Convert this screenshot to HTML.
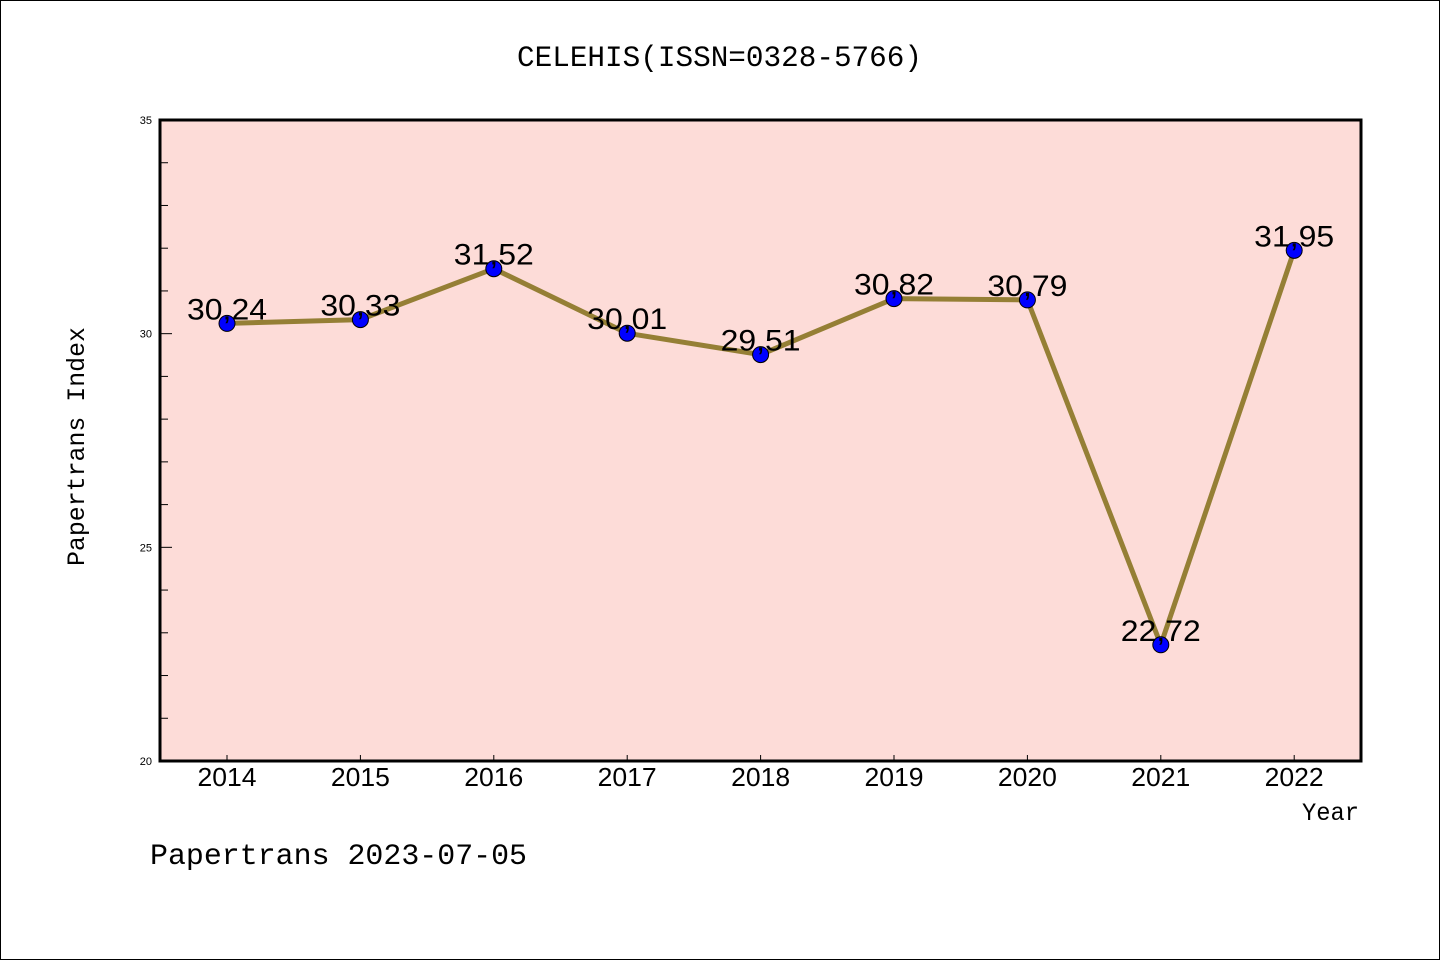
<!DOCTYPE html>
<html><head><meta charset="utf-8"><style>
html,body{margin:0;padding:0;background:#fff}
svg{display:block}
text{font-family:"Liberation Sans",sans-serif}
.mono{font-family:"Liberation Mono",monospace}
</style></head><body>
<svg id="chart" width="1440" height="960" xmlns="http://www.w3.org/2000/svg">
<rect x="0.5" y="0.5" width="1439" height="959" fill="#fff" stroke="#000"/>
<text class="mono" x="517" y="66" font-size="30" textLength="405" lengthAdjust="spacingAndGlyphs">CELEHIS(ISSN=0328-5766)</text>
<rect x="160" y="120" width="1201" height="641" fill="#fddcd8"/>
<g id="axes"></g>
<g id="series"></g>
<rect x="160" y="120" width="1201" height="641" fill="none" stroke="#000" stroke-width="3"/>
<text class="mono" x="84" y="566" font-size="25" textLength="239" lengthAdjust="spacingAndGlyphs" transform="rotate(-90 84 566)">Papertrans Index</text>
<text class="mono" x="1302" y="820" font-size="25" textLength="57" lengthAdjust="spacingAndGlyphs">Year</text>
<text class="mono" x="150" y="864" font-size="30" textLength="377" lengthAdjust="spacingAndGlyphs">Papertrans 2023-07-05</text>
</svg>
<script>
const years = ["2014","2015","2016","2017","2018","2019","2020","2021","2022"];
const values = [30.24,30.33,31.52,30.01,29.51,30.82,30.79,22.72,31.95];
const labels = ["30,24","30,33","31,52","30,01","29,51","30,82","30,79","22,72","31,95"];
const yTicks = [20,25,30,35];
const NS="http://www.w3.org/2000/svg";
const yMin=20,yMax=35,plotTop=120,plotBot=761;
function ys(v){return plotBot-(v-yMin)/(yMax-yMin)*(plotBot-plotTop);}
function xs(i){return 227+i*133.4;}
function mk(t,a,p){const e=document.createElementNS(NS,t);for(const k in a)e.setAttribute(k,a[k]);p.appendChild(e);return e;}
const ax=document.getElementById('axes'), se=document.getElementById('series');
for(let v=yMin;v<=yMax;v++){
  const major=yTicks.includes(v);
  const t=mk('line',{x1:160,x2:major?172:168,y1:ys(v),y2:ys(v),stroke:'#000','stroke-width':1},ax);
  
  
}
yTicks.forEach(v=>{
  const t=mk('text',{x:152,y:ys(v)+4,'font-size':11,'text-anchor':'end'},ax);t.textContent=v;
  
  
});
years.forEach((y,i)=>{
  const t=mk('line',{x1:xs(i),x2:xs(i),y1:761,y2:755,stroke:'#000','stroke-width':1},ax);
  
  
  const l=mk('text',{x:xs(i),y:786,'font-size':26,'text-anchor':'middle',textLength:59,lengthAdjust:'spacingAndGlyphs'},ax);l.textContent=y;
  
  
});
const pl=mk('polyline',{points:values.map((v,i)=>xs(i)+','+ys(v)).join(' '),fill:'none',stroke:'#957f35','stroke-width':5,'stroke-linejoin':'round'},se);


values.forEach((v,i)=>{
  const c=mk('circle',{cx:xs(i),cy:ys(v),r:8,fill:'#0000ff',stroke:'#000','stroke-width':1},se);
  
  
});
values.forEach((v,i)=>{
  const t=mk('text',{x:xs(i),y:ys(v)-4,'font-size':30,'text-anchor':'middle',fill:'#000',textLength:80,lengthAdjust:'spacingAndGlyphs'},se);t.textContent=labels[i];
  
  
});
</script>
</body></html>
